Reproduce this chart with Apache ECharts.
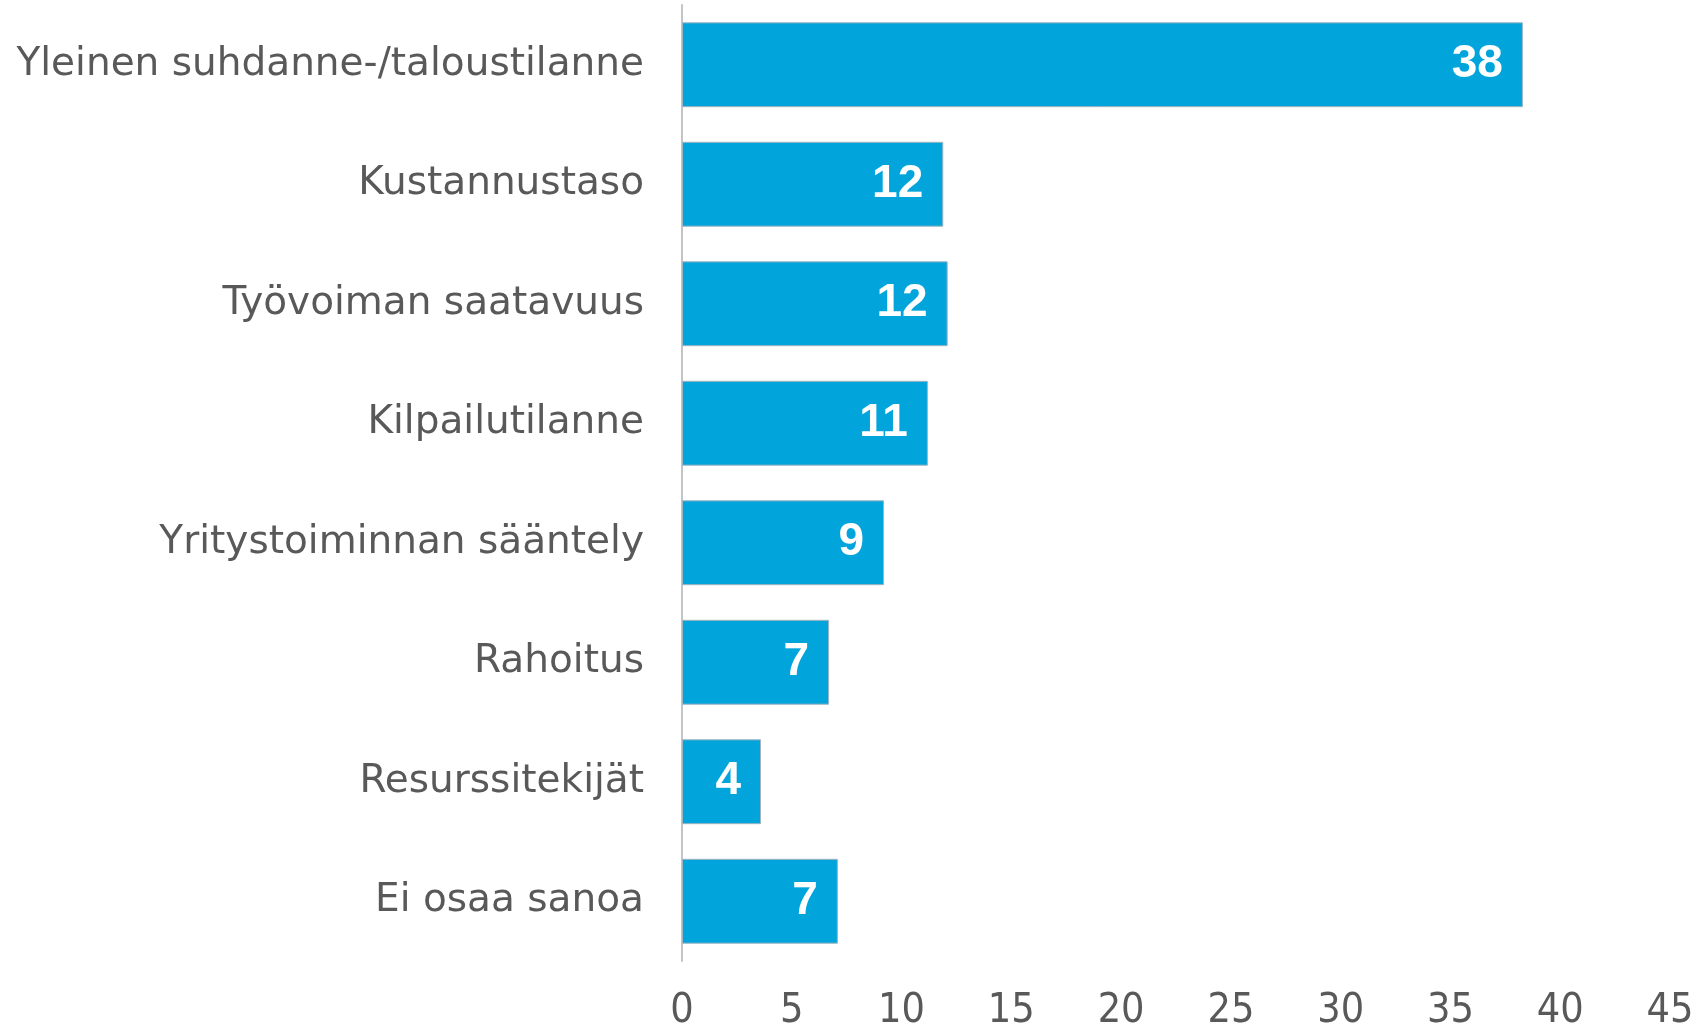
<!DOCTYPE html>
<html>
<head>
<meta charset="utf-8">
<script src="https://cdn.jsdelivr.net/npm/echarts@6/dist/echarts.min.js"></script>
<style>
  html, body { margin: 0; padding: 0; background: #fff; }
  #chart { width: 1703px; height: 1033px; }
</style>
</head>
<body>
<div id="chart"></div>
<script>
  // tekijät, jotka vaikuttavat eniten
  const categories = [
    'Yleinen suhdanne-/taloustilanne',
    'Kustannustaso',
    'Työvoiman saatavuus',
    'Kilpailutilanne',
    'Yritystoiminnan sääntely',
    'Rahoitus',
    'Resurssitekijät',
    'Ei osaa sanoa',
  ];
  const values = [38.3, 11.9, 12.1, 11.2, 9.2, 6.7, 3.6, 7.1];
  const xTicks = [0, 5, 10, 15, 20, 25, 30, 35, 40, 45];

  const chart = echarts.init(document.getElementById('chart'));
  chart.setOption({
    animation: false,
    grid: { left: 682, right: 33, top: 5, bottom: 72, containLabel: false },
    xAxis: {
      type: 'value',
      min: xTicks[0],
      max: xTicks[xTicks.length - 1],
      interval: 5,
      splitLine: { show: false },
      axisLine: { show: false },
      axisTick: { show: false },
      axisLabel: {
        color: '#595959',
        fontFamily: 'DejaVu Sans Condensed',
        fontSize: 41,
        margin: 30,
      },
    },
    yAxis: {
      type: 'category',
      inverse: true,
      data: categories,
      axisTick: { show: false },
      axisLine: { show: true, lineStyle: { color: '#c4c4c4', width: 2 } },
      axisLabel: {
        color: '#595959',
        fontFamily: 'DejaVu Sans',
        fontSize: 39,
        margin: 38,
      },
    },
    series: [
      {
        type: 'bar',
        data: values,
        barCategoryGap: '29%',
        itemStyle: { color: '#02a5db', borderColor: '#9fb3c0', borderWidth: 1 },
        label: {
          show: true,
          position: 'insideRight',
          distance: 20,
          color: '#fff',
          fontFamily: 'Liberation Sans',
          fontWeight: 'bold',
          fontSize: 46,
          formatter: (p) => Math.round(p.value),
        },
      },
    ],
  });
</script>
</body>
</html>
